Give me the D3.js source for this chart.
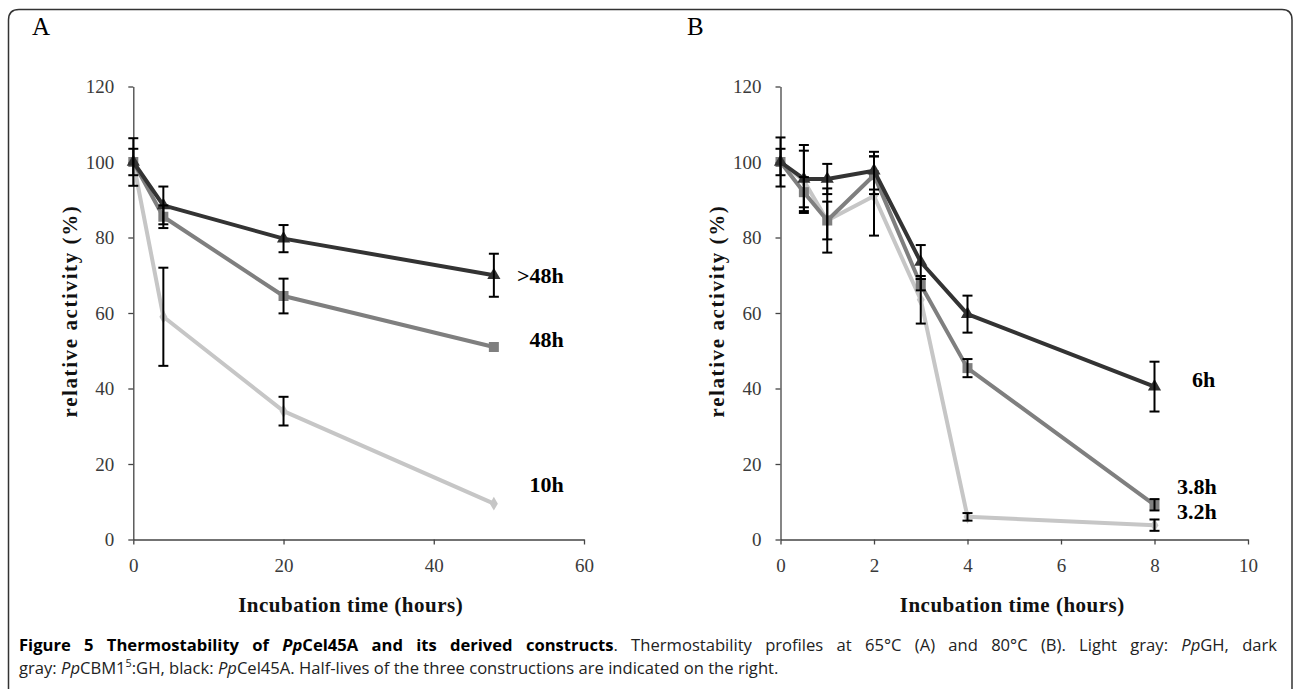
<!DOCTYPE html>
<html>
<head>
<meta charset="utf-8">
<title>Figure 5 Thermostability of PpCel45A</title>
<style>
  body { margin: 0; background: #fff; }
  .tick text { font-family: "Liberation Serif", serif; font-size: 19px; fill: #3a3a3a; }
  .axis path, .axis line { stroke: #444; stroke-width: 1.3px; }
  .axis_label { font-family: "Liberation Serif", serif; font-size: 21px; font-weight: bold; letter-spacing: 0.5px; text-anchor: middle; fill: #111; }
  .y_label { letter-spacing: 1.6px; }
  .half_life { font-family: "Liberation Serif", serif; font-size: 22px; font-weight: bold; fill: #000; }
  .panel_letter { font-family: "Liberation Serif", serif; font-size: 25px; fill: #000; }
  .caption { font-family: "Open Sans", sans-serif; font-size: 14px; fill: #222; }
</style>
</head>
<body>
<script src="https://cdn.jsdelivr.net/npm/d3@7"></script>
<script>
  // ---- data ----
  // panel A, 65 C
  var timesA = [0, 4, 20, 48];
  var lightA = [100, 59, 34, 9.5];
  var lightErrA = [0, 13, 3.8, 0];
  var grayA = [100, 85.5, 64.5, 51];
  var grayErrA = [6.3, 3, 4.6, 0];
  var blackA = [100, 88.5, 79.7, 70];
  var blackErrA = [3.5, 5, 3.6, 5.7];
  var halfLifeTextA = [">48h", "48h", "10h"];
  var halfLifeXA = [57.3, 57.3, 57.3];   // anchor in hours (right aligned)
  var halfLifeYA = [70, 53, 14.5];       // anchor in % activity

  // panel B, 80 C
  var timesB = [0, 0.5, 1, 2, 3, 4, 8];
  var lightB = [100, 95, 84.5, 91, 63.5, 6, 3.8];
  var lightErrB = [0, 8, 8.5, 10.5, 6.3, 1, 1.5];
  var grayB = [100, 92, 84.5, 96.5, 67.5, 45.4, 9.2];
  var grayErrB = [6.5, 4, 5, 5, 1.5, 2.4, 1.5];
  var blackB = [100, 95.5, 95.5, 97.7, 73.5, 59.7, 40.5];
  var blackErrB = [3.5, 9, 4, 5, 4.5, 4.9, 6.6];
  var halfLifeTextB = ["6h", "3.8h", "3.2h"];
  var halfLifeXB = [8.8, 8.48, 8.48];    // anchor in hours (left aligned)
  var halfLifeYB = [42.5, 14.2, 7.6];

  var yTicks = [0, 20, 40, 60, 80, 100, 120];
  var xTicksA = [0, 20, 40, 60];
  var xTicksB = [0, 2, 4, 6, 8, 10];

  var width = 1293;
  var height = 689;

  var svg = d3.select("body").append("svg")
    .attr("width", width)
    .attr("height", height);

  // figure frame, rounded on top, open below the picture
  svg.append("path")
    .attr("d", "M8.5,700 L8.5,20 Q8.5,9.5 19,9.5 L1282,9.5 Q1292,9.5 1292,20 L1292,700")
    .attr("fill", "none")
    .attr("stroke", "#333")
    .attr("stroke-width", 1.5);

  function drawPanel(p) {
    var x = d3.scaleLinear().domain([0, p.xMax]).range([p.left, p.right]);
    var y = d3.scaleLinear().domain([0, 120]).range([539.5, 86.5]);
    var g = svg.append("g").attr("id", p.id);

    // axes
    g.append("g")
      .attr("class", "axis")
      .attr("transform", "translate(0,539.5)")
      .call(d3.axisBottom(x).tickValues(p.xTicks).tickSize(5).tickPadding(14).tickSizeOuter(0));
    g.append("g")
      .attr("class", "axis")
      .attr("transform", "translate(" + p.left + ",0)")
      .call(d3.axisLeft(y).tickValues(yTicks).tickSize(5).tickPadding(14).tickSizeOuter(0));

    // series, light gray first, black on top
    var series = [
      { vals: p.light, errs: p.lightErr, color: "#c6c6c6", symbol: d3.symbolDiamond, size: 55 },
      { vals: p.gray, errs: p.grayErr, color: "#7f7f7f", symbol: d3.symbolSquare, size: 100 },
      { vals: p.black, errs: p.blackErr, color: "#333333", symbol: d3.symbolTriangle, size: 75 }
    ];

    var line = d3.line()
      .x(function(d) { return x(d.t); })
      .y(function(d) { return y(d.v); });

    series.forEach(function(s) {
      var pts = p.times.map(function(t, i) { return { t: t, v: s.vals[i], e: s.errs[i] }; });
      g.append("path")
        .datum(pts)
        .attr("d", line)
        .attr("fill", "none")
        .attr("stroke", s.color)
        .attr("stroke-width", 4)
        .attr("stroke-linejoin", "round");
      g.selectAll(null)
        .data(pts)
        .enter()
        .append("path")
        .attr("d", d3.symbol().type(s.symbol).size(s.size))
        .attr("transform", function(d) { return "translate(" + x(d.t) + "," + y(d.v) + ")"; })
        .attr("fill", s.color);
      s.pts = pts;
    });

    // error bars on top
    series.forEach(function(s) {
      var bars = g.selectAll(null)
        .data(s.pts.filter(function(d) { return d.e > 0; }))
        .enter()
        .append("g")
        .attr("stroke", "#000")
        .attr("stroke-width", 2);
      bars.append("line")
        .attr("x1", function(d) { return x(d.t); })
        .attr("x2", function(d) { return x(d.t); })
        .attr("y1", function(d) { return y(d.v + d.e); })
        .attr("y2", function(d) { return y(d.v - d.e); });
      [1, -1].forEach(function(sign) {
        bars.append("line")
          .attr("x1", function(d) { return x(d.t) - 5; })
          .attr("x2", function(d) { return x(d.t) + 5; })
          .attr("y1", function(d) { return y(d.v + sign * d.e); })
          .attr("y2", function(d) { return y(d.v + sign * d.e); });
      });
    });

    // half-life labels
    g.selectAll(null)
      .data(p.labels)
      .enter()
      .append("text")
      .attr("class", "half_life")
      .attr("x", function(d, i) { return x(p.labelX[i]); })
      .attr("y", function(d, i) { return y(p.labelY[i]); })
      .attr("dy", "0.35em")
      .style("text-anchor", p.labelAnchor)
      .text(function(d) { return d; });

    // axis labels
    g.append("text")
      .attr("class", "axis_label")
      .attr("x", (p.left + p.right) / 2 + p.xLabelShift)
      .attr("y", 612)
      .text("Incubation time (hours)");
    g.append("text")
      .attr("class", "axis_label y_label")
      .attr("transform", "translate(" + (p.left - 64) + ",311) rotate(-90)")
      .attr("dy", "0.35em")
      .text("relative activity (%)");

    // panel letter
    g.append("text")
      .attr("class", "panel_letter")
      .attr("x", p.letterX)
      .attr("y", 35)
      .text(p.letter);
  }

  drawPanel({
    id: "panelA", letter: "A", letterX: 32, xMax: 60, left: 133.3, right: 584, xLabelShift: -8,
    times: timesA, xTicks: xTicksA,
    light: lightA, lightErr: lightErrA, gray: grayA, grayErr: grayErrA, black: blackA, blackErr: blackErrA,
    labels: halfLifeTextA, labelX: halfLifeXA, labelY: halfLifeYA, labelAnchor: "end"
  });

  drawPanel({
    id: "panelB", letter: "B", letterX: 687, xMax: 10, left: 780.5, right: 1248, xLabelShift: -2,
    times: timesB, xTicks: xTicksB,
    light: lightB, lightErr: lightErrB, gray: grayB, grayErr: grayErrB, black: blackB, blackErr: blackErrB,
    labels: halfLifeTextB, labelX: halfLifeXB, labelY: halfLifeYB, labelAnchor: "start"
  });

  // caption, two lines made of styled runs (first line justified)
  var captionLines = [
    [
      ["Figure 5 Thermostability of ", "b"], ["Pp", "bi"], ["Cel45A and its derived constructs", "b"],
      [". Thermostability profiles at 65°C (A) and 80°C (B). Light gray: ", ""], ["Pp", "i"], ["GH, dark", ""]
    ],
    [
      ["gray: ", ""], ["Pp", "i"], ["CBM1", ""], ["5", "sup"], [":GH, black: ", ""], ["Pp", "i"],
      ["Cel45A. Half-lives of the three constructions are indicated on the right.", ""]
    ]
  ];

  var caption = svg.append("g");
  var captionTexts = captionLines.map(function(runs, li) {
    var t = caption.append("text")
      .attr("class", "caption")
      .attr("x", 19)
      .attr("y", 651 + li * 22.5);
    runs.forEach(function(r) {
      var ts = t.append("tspan").text(r[0]);
      if (r[1].indexOf("b") >= 0) ts.style("font-weight", "bold").style("fill", "#000");
      if (r[1].indexOf("i") >= 0) ts.style("font-style", "italic");
      if (r[1] === "sup") ts.attr("baseline-shift", "super").style("font-size", "0.65em");
    });
    return t;
  });

  // size the font from the short last line, then justify the first line
  var len2 = captionTexts[1].node().getComputedTextLength();
  var fs = 14 * 760 / len2;
  caption.selectAll("text.caption").style("font-size", fs + "px");
  var len1 = captionTexts[0].node().getComputedTextLength();
  var nSpaces = captionTexts[0].text().split(" ").length - 1;
  captionTexts[0].style("word-spacing", ((1258 - len1) / nSpaces) + "px");
</script>
</body>
</html>
